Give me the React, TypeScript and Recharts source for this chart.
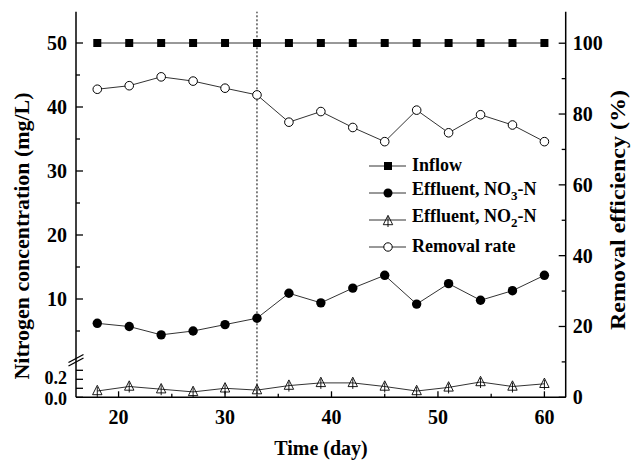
import React from 'react';
import { LineChart, Line, XAxis, YAxis, ReferenceLine } from 'recharts';

const days = [18, 21, 24, 27, 30, 33, 36, 39, 42, 45, 48, 51, 54, 57, 60];
const inflow = [50, 50, 50, 50, 50, 50, 50, 50, 50, 50, 50, 50, 50, 50, 50];
const no3 = [6.2, 5.7, 4.4, 5.0, 6.0, 7.0, 10.9, 9.4, 11.7, 13.7, 9.2, 12.4, 9.8, 11.3, 13.7];
const no2 = [0.07, 0.12, 0.09, 0.06, 0.1, 0.08, 0.13, 0.16, 0.16, 0.12, 0.07, 0.11, 0.17, 0.12, 0.15];
const removal = [87.0, 88.0, 90.5, 89.3, 87.3, 85.4, 77.7, 80.7, 76.2, 72.2, 81.1, 74.7, 79.8, 76.9, 72.2];

const xTicks = [20, 25, 30, 35, 40, 45, 50, 55, 60];
const leftTicks = [0, 0.1, 0.2, 0.3, 5, 10, 15, 20, 25, 30, 35, 40, 45, 50];
const leftLabels: Record<string, string> = { '0': '0.0', '0.2': '0.2', '10': '10', '20': '20', '30': '30', '40': '40', '50': '50' };
const rightTicks = [0, 10, 20, 30, 40, 50, 60, 70, 80, 90, 100];

// broken left axis: 0-0.3 below the break, 5-50 above it
const toAxis = (v: number) => (v < 1 ? v * 90 : 98.3 + (v - 10) * 6.4);

const data = days.map((d, i) => ({ day: d, inflow: inflow[i], no3: no3[i], no2: no2[i], removal: removal[i] }));

const FONT = '"Liberation Serif", "Times New Roman", serif';

const LeftTick = (props: any) => {
  const { x, y, payload } = props;
  const real = leftTicks.find((t) => Math.abs(toAxis(t) - payload.value) < 0.01);
  const label = real !== undefined ? leftLabels[String(real)] : undefined;
  const low = real !== undefined && real < 1;
  const len = label || low ? 7 : 4;
  // the two small labels below the break sit close together
  const shift = low ? (real === 0 ? 1.5 : -1.5) : 0;
  return (
    <g>
      <line x1={x} y1={y} x2={x + len} y2={y} stroke="#000" strokeWidth={1.3} />
      {label && (
        <text x={x - 9} y={y + shift} dy="0.35em" textAnchor="end" fontFamily={FONT} fontWeight="bold" fontSize={low ? 18 : 20} fill="#000">
          {label}
        </text>
      )}
    </g>
  );
};

const RightTick = (props: any) => {
  const { x, y, payload } = props;
  const major = payload.value % 20 === 0;
  return (
    <g>
      <line x1={x} y1={y} x2={x - (major ? 7 : 4)} y2={y} stroke="#000" strokeWidth={1.3} />
      {major && (
        <text x={x + 7} y={y} dy="0.35em" textAnchor="start" fontFamily={FONT} fontWeight="bold" fontSize={20} fill="#000">
          {payload.value}
        </text>
      )}
    </g>
  );
};

const BottomTick = (props: any) => {
  const { x, y, payload } = props;
  const major = payload.value % 10 === 0;
  return (
    <g>
      <line x1={x} y1={y} x2={x} y2={y - (major ? 6 : 3.5)} stroke="#000" strokeWidth={1.3} />
      {major && (
        <text x={x} y={y + 20} dy="0.35em" textAnchor="middle" fontFamily={FONT} fontWeight="bold" fontSize={20} fill="#000">
          {payload.value}
        </text>
      )}
    </g>
  );
};

const SquareDot = ({ cx, cy }: any) => <rect x={cx - 4} y={cy - 4} width={8} height={8} fill="#000" />;
const FilledDot = ({ cx, cy }: any) => <circle cx={cx} cy={cy} r={4.7} fill="#000" />;
const OpenDot = ({ cx, cy }: any) => <circle cx={cx} cy={cy} r={4.3} fill="#fff" stroke="#000" strokeWidth={1} />;
const TriDot = ({ cx, cy }: any) => (
  <g>
    <path d={`M${cx},${cy - 5.7} L${cx + 4.7},${cy + 3.7} L${cx - 4.7},${cy + 3.7} Z`} fill="none" stroke="#000" strokeWidth={0.9} />
    <line x1={cx} y1={cy - 4} x2={cx} y2={cy + 6} stroke="#000" strokeWidth={0.9} />
  </g>
);

const LegendRow = ({ icon, children }: any) => (
  <div style={{ display: 'flex', alignItems: 'center', height: 27 }}>
    <svg width={40} height={14} style={{ marginRight: 4 }}>
      <line x1={1} y1={7} x2={38} y2={7} stroke="#333" strokeWidth={1} />
      {icon}
    </svg>
    <span>{children}</span>
  </div>
);

export default function App() {
  return (
    <div style={{ position: 'absolute', left: 0, top: 0, width: 631, height: 461, background: '#fff' }}>
      <LineChart width={631} height={461} data={data} margin={{ top: 11.7, right: 0, bottom: 0, left: 0 }}>
        <XAxis
          dataKey="day"
          type="number"
          domain={[16, 62]}
          ticks={xTicks}
          interval={0}
          tick={<BottomTick />}
          tickLine={false}
          tickSize={0}
          tickMargin={0}
          height={63.7}
          axisLine={{ stroke: '#000', strokeWidth: 1.5 }}
          label={{
            content: () => (
              <text x={321} y={448} dy="0.35em" textAnchor="middle" fontFamily={FONT} fontWeight="bold" fontSize={20} fill="#000">
                Time (day)
              </text>
            ),
          }}
        />
        <XAxis xAxisId="top" orientation="top" dataKey="day" type="number" domain={[16, 62]} height={0} tick={false} tickLine={false} axisLine={{ stroke: '#000', strokeWidth: 1.5 }} />
        <YAxis
          yAxisId="left"
          type="number"
          domain={[0, 385.6]}
          ticks={leftTicks.map(toAxis)}
          interval={0}
          tick={<LeftTick />}
          tickLine={false}
          tickSize={0}
          tickMargin={0}
          width={76}
          axisLine={{ stroke: '#000', strokeWidth: 1.5 }}
          label={{
            content: () => (
              <text
                transform="translate(22,236) rotate(-90)"
                textAnchor="middle"
                dy="0.35em"
                fontFamily={FONT}
                fontWeight="bold"
                fontSize={21}
                fill="#000"
                textLength={287}
                lengthAdjust="spacingAndGlyphs"
              >
                Nitrogen concentration (mg/L)
              </text>
            ),
          }}
        />
        <YAxis
          yAxisId="right"
          orientation="right"
          type="number"
          domain={[0, 108.9]}
          ticks={rightTicks}
          interval={0}
          tick={<RightTick />}
          tickLine={false}
          tickSize={0}
          tickMargin={0}
          width={65.3}
          axisLine={{ stroke: '#000', strokeWidth: 1.5 }}
          label={{
            content: () => (
              <text
                transform="translate(617,210) rotate(-90)"
                textAnchor="middle"
                dy="0.35em"
                fontFamily={FONT}
                fontWeight="bold"
                fontSize={22}
                fill="#000"
                textLength={240}
                lengthAdjust="spacingAndGlyphs"
              >
                Removal efficiency (%)
              </text>
            ),
          }}
        />
        <ReferenceLine x={33} yAxisId="left" stroke="#000" strokeWidth={1} strokeDasharray="2 2" />
        <Line yAxisId="left" dataKey={(d: any) => toAxis(d.inflow)} stroke="#333" strokeWidth={1} dot={<SquareDot />} isAnimationActive={false} />
        <Line yAxisId="left" dataKey={(d: any) => toAxis(d.no3)} stroke="#333" strokeWidth={1} dot={<FilledDot />} isAnimationActive={false} />
        <Line yAxisId="left" dataKey={(d: any) => toAxis(d.no2)} stroke="#333" strokeWidth={1} dot={<TriDot />} isAnimationActive={false} />
        <Line yAxisId="right" dataKey="removal" stroke="#333" strokeWidth={1} dot={<OpenDot />} isAnimationActive={false} />
      </LineChart>
      {/* axis break marks */}
      <svg width={631} height={461} style={{ position: 'absolute', left: 0, top: 0, pointerEvents: 'none' }}>
        <line x1={68.5} y1={362.5} x2={83.5} y2={354.5} stroke="#000" strokeWidth={1.2} />
        <line x1={68.5} y1={366} x2={83.5} y2={358} stroke="#000" strokeWidth={1.2} />
      </svg>
      <div
        style={{
          position: 'absolute',
          left: 368,
          top: 152,
          fontFamily: FONT,
          fontWeight: 'bold',
          fontSize: 18,
          lineHeight: '27px',
          color: '#000',
        }}
      >
        <LegendRow icon={<rect x={16} y={3} width={8} height={8} fill="#000" />}>Inflow</LegendRow>
        <LegendRow icon={<circle cx={20} cy={7} r={4.5} fill="#000" />}>
          Effluent, NO<sub style={{ fontSize: 13 }}>3</sub>-N
        </LegendRow>
        <LegendRow icon={<TriDot cx={20} cy={8} />}>
          Effluent, NO<sub style={{ fontSize: 13 }}>2</sub>-N
        </LegendRow>
        <LegendRow icon={<circle cx={20} cy={7} r={4.2} fill="#fff" stroke="#000" strokeWidth={1} />}>Removal rate</LegendRow>
      </div>
    </div>
  );
}
